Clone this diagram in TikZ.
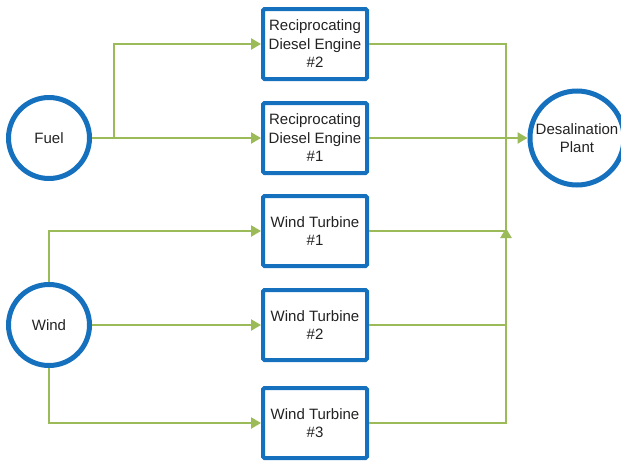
\documentclass[tikz,border=0pt]{standalone}
\usepackage{fontspec}
\setmainfont{Liberation Sans}
\usetikzlibrary{arrows.meta}
\definecolor{nblue}{HTML}{1570BE}
\definecolor{ngreen}{HTML}{9BBB59}
\definecolor{txt}{HTML}{222222}
\begin{document}
\begin{tikzpicture}[x=1pt,y=-1pt,
  box/.style={draw=nblue, line width=4pt, rounded corners=1.5pt, minimum width=104pt, minimum height=70pt, align=center, inner sep=0pt, text=txt, font=\fontsize{15}{18.5}\selectfont},
  circ/.style={draw=nblue, line width=5pt, circle, minimum size=81pt, inner sep=0pt, align=center, text=txt, font=\fontsize{15}{18.5}\selectfont},
  conn/.style={draw=ngreen, line width=2.3pt},
  arr/.style={conn, -{Triangle[length=10pt,width=11pt]}}]
\useasboundingbox (0,0) rectangle (621,461);
\node[circ] (fuel) at (49,138) {Fuel};
\node[circ] (wind) at (49,325) {Wind};
\node[circ, minimum size=94pt] (desal) at (577,138) {Desalination\\Plant};
\node[box] (d2) at (315,44) {Reciprocating\\Diesel Engine\\\#2};
\node[box] (d1) at (315,138) {Reciprocating\\Diesel Engine\\\#1};
\node[box] (wt1) at (315,231) {Wind Turbine\\\#1};
\node[box] (wt2) at (315,325) {Wind Turbine\\\#2};
\node[box] (wt3) at (315,423) {Wind Turbine\\\#3};
\coordinate (fb) at (114,138);
\coordinate (b0) at (506,44);
\coordinate (b1) at (506,231);
\coordinate (bt) at (506,228);
\coordinate (b2) at (506,325);
% fuel
\draw[arr] (fuel.east) -- (d1.west);
\draw[arr] (fb) |- (d2.west);
% wind
\draw[arr] (wind.north) |- (wt1.west);
\draw[arr] (wind.east) -- (wt2.west);
\draw[arr] (wind.south) |- (wt3.west);
% outputs
\draw[conn] (wt1.east) -- (b1);
\draw[conn] (wt2.east) -- (b2);
\draw[arr] (wt3.east) -| (bt);
\draw[conn] (d2.east) -- (b0) -- (b1);
\draw[arr] (d1.east) -- (desal.west);
\end{tikzpicture}
\end{document}
